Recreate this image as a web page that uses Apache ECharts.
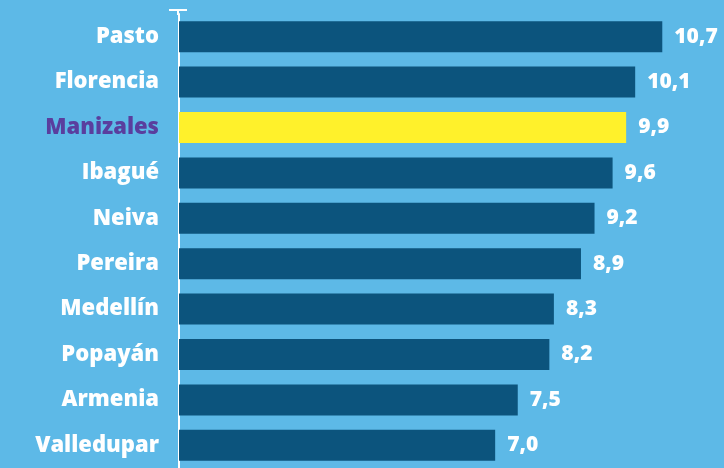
<!DOCTYPE html>
<html>
<head>
<meta charset="utf-8">
<script src="https://cdn.jsdelivr.net/npm/echarts@6/dist/echarts.min.js"></script>
<style>
  html, body { margin: 0; padding: 0; background: #5DB9E7; }
  #chart { width: 724px; height: 468px; }
</style>
</head>
<body>
<div id="chart"></div>
<script>
const cities = ['Pasto', 'Florencia', 'Manizales', 'Ibagué', 'Neiva', 'Pereira', 'Medellín', 'Popayán', 'Armenia', 'Valledupar'];
const values = [10.7, 10.1, 9.9, 9.6, 9.2, 8.9, 8.3, 8.2, 7.5, 7.0];
const highlight = 'Manizales';

const chart = echarts.init(document.getElementById('chart'));

const font = '"Open Sans", sans-serif';

chart.setOption({
  backgroundColor: '#5DB9E7',
  animation: false,
  grid: { left: 179, right: 3, top: 14, bottom: 0 },
  xAxis: {
    type: 'value', min: 0, max: 12, show: false
  },
  yAxis: {
    type: 'category',
    data: cities,
    inverse: true,
    axisLine: { show: true, lineStyle: { color: '#ffffff', width: 2 } },
    axisTick: { show: false },
    axisLabel: {
      margin: 20,
      fontFamily: font,
      fontWeight: 800,
      fontSize: 22,
      color: (v) => v === highlight ? '#5A3E9E' : '#ffffff'
    }
  },
  series: [{
    type: 'bar',
    barWidth: 31,
    data: values.map((v, i) => ({
      value: v,
      itemStyle: { color: cities[i] === highlight ? '#FFF12B' : '#0C547D' }
    })),
    label: {
      show: true,
      position: 'right',
      distance: 12,
      fontFamily: font,
      fontWeight: 800,
      fontSize: 21,
      color: '#ffffff',
      formatter: (p) => p.value.toFixed(1).replace('.', ',')
    }
  }],
  graphic: [
    { type: 'line', shape: { x1: 169, y1: 10, x2: 187, y2: 10 }, style: { stroke: '#ffffff', lineWidth: 2 } },
    { type: 'line', shape: { x1: 178, y1: 10, x2: 178, y2: 15 }, style: { stroke: '#ffffff', lineWidth: 2 } }
  ]
});
</script>
</body>
</html>
